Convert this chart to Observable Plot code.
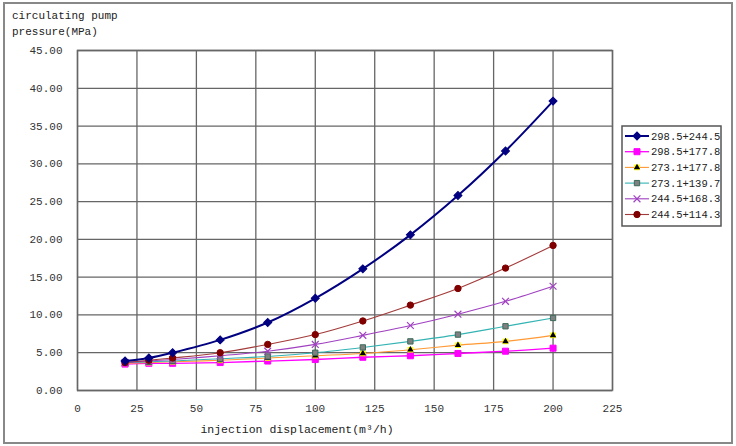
<!DOCTYPE html>
<html>
<head>
<meta charset="utf-8">
<script src="https://cdn.jsdelivr.net/npm/d3@7"></script>
<script src="https://cdn.jsdelivr.net/npm/@observablehq/plot@0.6"></script>
<style>
  html, body { margin: 0; padding: 0; background: #fff; }
  #chart { position: relative; width: 736px; height: 446px; }
</style>
</head>
<body>
<div id="chart"></div>
<script>
// ---- data ----
const displacement = [20, 30, 40, 60, 80, 100, 120, 140, 160, 180, 200];
const seriesNames = ["298.5+244.5", "298.5+177.8", "273.1+177.8", "273.1+139.7", "244.5+168.3", "244.5+114.3"];
const s298_244 = [3.9, 4.3, 5.0, 6.7, 9.0, 12.2, 16.1, 20.6, 25.8, 31.7, 38.3];
const s298_177 = [3.5, 3.6, 3.6, 3.7, 3.9, 4.1, 4.4, 4.6, 4.9, 5.2, 5.6];
const s273_177 = [3.6, 3.7, 3.8, 4.0, 4.3, 4.6, 4.9, 5.4, 6.0, 6.5, 7.3];
const s273_139 = [3.7, 3.8, 3.9, 4.2, 4.5, 5.0, 5.7, 6.5, 7.4, 8.5, 9.6];
const s244_168 = [3.7, 3.9, 4.1, 4.6, 5.2, 6.1, 7.3, 8.6, 10.1, 11.8, 13.8];
const s244_114 = [3.7, 4.0, 4.3, 5.0, 6.1, 7.4, 9.2, 11.3, 13.5, 16.2, 19.2];
const xTicks = [0, 25, 50, 75, 100, 125, 150, 175, 200, 225];
const yTicks = [0, 5, 10, 15, 20, 25, 30, 35, 40, 45];
const yTitle = ["circulating pump", "pressure(MPa)"];
const xTitle = "injection displacement(m³/h)";

// ---- styles ----
const allValues = [s298_244, s298_177, s273_177, s273_139, s244_168, s244_114];
const lineColors = ["#000080", "#ff00ff", "#ff9933", "#33b3b3", "#a040c0", "#a33a3a"];
const lineWidths = [2, 1.3, 1.1, 1.1, 1.1, 1.1];
const symbols = ["square", "square", "triangle", "square", "times", "circle"];
const symRotate = [45, 0, 0, 0, 0, 0];
const symFill = ["#000080", "#ff00ff", "#000000", "#808080", "none", "#800000"];
const symStroke = ["#000080", "#ff00ff", "#ffff00", "#3a6a5a", "#a040c0", "#800000"];
const symR = [3.2, 3.4, 3, 3, 3.2, 3.2];

const data = [];
allValues.forEach((vals, i) => vals.forEach((v, j) => data.push({series: seriesNames[i], idx: i, x: displacement[j], y: v})));

const font = "'Liberation Mono', 'DejaVu Sans Mono', monospace";
const drawOrder = [1, 2, 3, 4, 5, 0];
const marks = [
  Plot.frame({stroke: "#777", strokeWidth: 1.5}),
  Plot.ruleX(xTicks, {stroke: "#666", strokeWidth: 1.3}),
  Plot.ruleY(yTicks, {stroke: "#666", strokeWidth: 1.3}),
  Plot.axisX(xTicks, {tickSize: 0, tickPadding: 14, label: null, fontSize: 11, fill: "#333"}),
  Plot.axisY(yTicks, {tickSize: 0, tickPadding: 15, label: null, tickFormat: d3.format(".2f"), fontSize: 11, fill: "#333"})
];
for (const i of drawOrder) {
  const d = data.filter(r => r.idx === i);
  marks.push(Plot.line(d, {x: "x", y: "y", stroke: lineColors[i], strokeWidth: lineWidths[i], curve: "catmull-rom"}));
  if (i === 2) {
    marks.push(Plot.dot(d, {x: "x", y: "y", symbol: "square", r: 3.2, fill: "#ffff00", stroke: "none"}));
    marks.push(Plot.dot(d, {x: "x", y: "y", symbol: "triangle", r: 2.4, fill: "#000"}));
  } else {
    marks.push(Plot.dot(d, {x: "x", y: "y", symbol: symbols[i], rotate: symRotate[i], r: symR[i], fill: symFill[i], stroke: symStroke[i], strokeWidth: i === 4 ? 1.2 : 1}));
  }
}
marks.push(Plot.text([xTitle], {frameAnchor: "bottom", dx: -48, dy: 42, fontSize: 11.5, fill: "#222"}));

const chart = Plot.plot({
  width: 736,
  height: 446,
  marginLeft: 77,
  marginRight: 124,
  marginTop: 50,
  marginBottom: 56,
  x: {domain: [0, 225]},
  y: {domain: [0, 45]},
  style: {fontFamily: font, fontSize: "11px", background: "#fff", overflow: "visible"},
  marks
});
document.getElementById("chart").appendChild(chart);

// ---- decorations: outer border, y title, legend ----
const svg = d3.select(chart);
svg.append("rect").attr("x", 4).attr("y", 3).attr("width", 728).attr("height", 440)
  .attr("fill", "none").attr("stroke", "#888").attr("stroke-width", 2);

svg.append("g").attr("font-family", font).attr("font-size", 11).attr("fill", "#222").attr("text-anchor", "start")
  .selectAll("text").data(yTitle).join("text")
  .attr("x", 12).attr("y", (d, i) => 19 + i * 16).text(d => d);

const lg = svg.append("g").attr("font-family", font).attr("font-size", 10.5).attr("fill", "#222").attr("text-anchor", "start");
lg.append("rect").attr("x", 622).attr("y", 126).attr("width", 99).attr("height", 100)
  .attr("fill", "#fff").attr("stroke", "#555").attr("stroke-width", 1.5);
const symMap = {square: d3.symbolSquare, triangle: d3.symbolTriangle, times: d3.symbolTimes, circle: d3.symbolCircle};
seriesNames.forEach((name, i) => {
  const yy = 136 + i * 15.7;
  const g = lg.append("g");
  g.append("line").attr("x1", 625).attr("x2", 649).attr("y1", yy).attr("y2", yy)
    .attr("stroke", lineColors[i]).attr("stroke-width", lineWidths[i]);
  const size = Math.PI * symR[i] * symR[i];
  if (i === 2) {
    g.append("path").attr("transform", `translate(637,${yy})`).attr("d", d3.symbol(d3.symbolSquare, Math.PI * 3.2 * 3.2)()).attr("fill", "#ffff00");
    g.append("path").attr("transform", `translate(637,${yy})`).attr("d", d3.symbol(d3.symbolTriangle, Math.PI * 2.4 * 2.4)()).attr("fill", "#000");
  } else {
    g.append("path").attr("transform", `translate(637,${yy}) rotate(${symRotate[i]})`).attr("d", d3.symbol(symMap[symbols[i]], size)())
      .attr("fill", symFill[i]).attr("stroke", symStroke[i]).attr("stroke-width", i === 4 ? 1.2 : 1);
  }
  g.append("text").attr("x", 651).attr("y", yy).attr("dy", "0.35em").text(name);
});
</script>
</body>
</html>
